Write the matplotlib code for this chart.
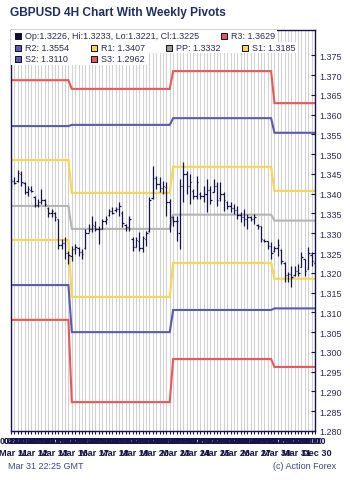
import numpy as np
import matplotlib
matplotlib.use("Agg")
import matplotlib.pyplot as plt
from matplotlib.patches import Rectangle
from matplotlib.transforms import blended_transform_factory

plt.rcParams['font.family'] = ['Liberation Sans', 'DejaVu Sans']

# ---------------- data ----------------
opens = [1.3420, 1.3432, 1.3432, 1.3450, 1.3428, 1.3405, 1.3410, 1.3392, 1.3372, 1.3380,
         1.3383, 1.3364, 1.3350, 1.3352, 1.3335, 1.3270, 1.3276, 1.3250, 1.3243, 1.3260,
         1.3262, 1.3252, 1.3262, 1.3300, 1.3310, 1.3318, 1.3312, 1.3312, 1.3330, 1.3345,
         1.3356, 1.3358, 1.3362, 1.3352, 1.3320, 1.3315, 1.3285, 1.3265, 1.3280, 1.3262,
         1.3285, 1.3305, 1.3390, 1.3440, 1.3425, 1.3415, 1.3418, 1.3380, 1.3340, 1.3330,
         1.3300, 1.3420, 1.3450, 1.3420, 1.3408, 1.3395, 1.3400, 1.3395, 1.3400, 1.3410,
         1.3405, 1.3420, 1.3390, 1.3400, 1.3380, 1.3370, 1.3365, 1.3360, 1.3345, 1.3340,
         1.3335, 1.3340, 1.3336, 1.3320, 1.3318, 1.3282, 1.3280, 1.3268, 1.3255, 1.3262,
         1.3258, 1.3225, 1.3195, 1.3198, 1.3195, 1.3205, 1.3215, 1.3235, 1.3210, 1.3245,
         1.3226]
highs = [1.3437, 1.3442, 1.3460, 1.3457, 1.3430, 1.3419, 1.3419, 1.3394, 1.3387, 1.3412,
         1.3387, 1.3366, 1.3361, 1.3354, 1.3336, 1.3285, 1.3291, 1.3255, 1.3268, 1.3273,
         1.3265, 1.3260, 1.3311, 1.3323, 1.3344, 1.3331, 1.3318, 1.3336, 1.3344, 1.3361,
         1.3366, 1.3366, 1.3379, 1.3356, 1.3323, 1.3344, 1.3291, 1.3291, 1.3303, 1.3293,
         1.3306, 1.3392, 1.3470, 1.3445, 1.3442, 1.3432, 1.3430, 1.3387, 1.3344, 1.3344,
         1.3437, 1.3480, 1.3457, 1.3450, 1.3412, 1.3445, 1.3404, 1.3419, 1.3437, 1.3419,
         1.3437, 1.3430, 1.3430, 1.3404, 1.3382, 1.3379, 1.3374, 1.3369, 1.3354, 1.3361,
         1.3349, 1.3344, 1.3349, 1.3323, 1.3318, 1.3285, 1.3280, 1.3278, 1.3268, 1.3285,
         1.3260, 1.3227, 1.3202, 1.3217, 1.3217, 1.3222, 1.3253, 1.3235, 1.3265, 1.3253,
         1.3233]
lows = [1.3412, 1.3425, 1.3430, 1.3419, 1.3399, 1.3394, 1.3404, 1.3366, 1.3366, 1.3374,
        1.3369, 1.3341, 1.3341, 1.3331, 1.3260, 1.3260, 1.3235, 1.3222, 1.3230, 1.3248,
        1.3242, 1.3235, 1.3260, 1.3303, 1.3303, 1.3306, 1.3273, 1.3311, 1.3323, 1.3344,
        1.3349, 1.3354, 1.3344, 1.3316, 1.3306, 1.3306, 1.3255, 1.3265, 1.3255, 1.3253,
        1.3268, 1.3303, 1.3387, 1.3412, 1.3404, 1.3399, 1.3344, 1.3303, 1.3318, 1.3280,
        1.3260, 1.3379, 1.3399, 1.3374, 1.3387, 1.3387, 1.3387, 1.3379, 1.3354, 1.3374,
        1.3404, 1.3369, 1.3382, 1.3356, 1.3361, 1.3354, 1.3349, 1.3336, 1.3328, 1.3318,
        1.3311, 1.3331, 1.3323, 1.3311, 1.3278, 1.3278, 1.3260, 1.3235, 1.3253, 1.3242,
        1.3222, 1.3177, 1.3177, 1.3164, 1.3192, 1.3192, 1.3215, 1.3192, 1.3210, 1.3217,
        1.3221]
closes = [1.3432, 1.3428, 1.3452, 1.3430, 1.3405, 1.3412, 1.3407, 1.3372, 1.3380, 1.3385,
          1.3375, 1.3350, 1.3356, 1.3340, 1.3270, 1.3275, 1.3250, 1.3245, 1.3260, 1.3265,
          1.3252, 1.3248, 1.3300, 1.3310, 1.3320, 1.3312, 1.3310, 1.3330, 1.3335, 1.3356,
          1.3352, 1.3362, 1.3370, 1.3325, 1.3315, 1.3335, 1.3265, 1.3282, 1.3262, 1.3288,
          1.3300, 1.3385, 1.3440, 1.3425, 1.3415, 1.3420, 1.3380, 1.3340, 1.3330, 1.3330,
          1.3420, 1.3450, 1.3420, 1.3430, 1.3395, 1.3430, 1.3395, 1.3400, 1.3410, 1.3385,
          1.3420, 1.3385, 1.3400, 1.3385, 1.3370, 1.3365, 1.3360, 1.3345, 1.3340, 1.3335,
          1.3340, 1.3336, 1.3342, 1.3318, 1.3285, 1.3281, 1.3268, 1.3250, 1.3262, 1.3270,
          1.3230, 1.3195, 1.3198, 1.3190, 1.3205, 1.3200, 1.3240, 1.3205, 1.3250, 1.3230,
          1.3225]

week_lengths = [18, 30, 30, 13]
R3 = [1.3687, 1.3665, 1.3710, 1.3629]
R2 = [1.3571, 1.3574, 1.3591, 1.3554]
R1 = [1.3485, 1.3402, 1.3468, 1.3407]
PP = [1.3369, 1.3311, 1.3347, 1.3332]
S1 = [1.3283, 1.3139, 1.3225, 1.3185]
S2 = [1.3169, 1.3050, 1.3106, 1.3110]
S3 = [1.3081, 1.2873, 1.2982, 1.2962]

day_labels = ["Mar 11", "Mar 12", "Mar 13", "Mar 16", "Mar 17", "Mar 18", "Mar 19", "Mar 20",
              "Mar 23", "Mar 24", "Mar 25", "Mar 26", "Mar 27", "Mar 30", "Mar 31", "Dec 30"]
hour_labels = ["00:00", "04:00", "08:00", "12:00", "16:00", "20:00"]
y_ticks = [1.280, 1.285, 1.290, 1.295, 1.300, 1.305, 1.310, 1.315, 1.320, 1.325,
           1.330, 1.335, 1.340, 1.345, 1.350, 1.355, 1.360, 1.365, 1.370, 1.375]

# ---------------- styling ----------------
W, H = 350, 481
NAVY = '#15154a'
TXT = '#2a2a55'
RED = '#e85858'
BLUE = '#5a5ab0'
YEL = '#f8d64e'
GRAY = '#b4b4b4'

fig = plt.figure(figsize=(W / 100, H / 100), dpi=100)
L, R, T, B = 11, 315, 31, 432
ax = fig.add_axes([L / W, 1 - B / H, (R - L) / W, (B - T) / H])

n = len(closes)
x = np.arange(n)
ax.set_xlim(0, n - 1)
ax.set_ylim(1.280, 1.280 + (B - T) / 3955)

# vertical grid per bar
for xi in x:
    ax.axvline(xi, color='#d2d2d2', lw=0.8, zorder=0)

# pivots
for vals, col in [(R3, RED), (R2, BLUE), (R1, YEL), (PP, GRAY), (S1, YEL), (S2, BLUE), (S3, RED)]:
    yv = np.repeat(vals, week_lengths)
    ax.plot(x, yv, color=col, lw=1.5, zorder=2, solid_joinstyle='miter')

# OHLC bars
tick = 0.42
ax.vlines(x, lows, highs, color=NAVY, lw=0.9, zorder=3)
ax.hlines(opens, x - tick, x, color=NAVY, lw=0.9, zorder=3)
ax.hlines(closes, x, x + tick, color=NAVY, lw=0.9, zorder=3)

for sp in ax.spines.values():
    sp.set_color(NAVY)
    sp.set_linewidth(1.0)

# y axis on right
ax.yaxis.tick_right()
ax.set_yticks(y_ticks)
ax.set_yticklabels([f"{v:.3f}" for v in y_ticks])
ax.tick_params(axis='y', direction='in', length=3, width=0.8, color=NAVY,
               labelsize=6.5, labelcolor=TXT, pad=3)

# x axis: time labels per bar (dense, overlapping band as in reference)
ax.set_xticks(x)
ax.set_xticklabels([hour_labels[i % 6] for i in x], fontweight='bold')
ax.tick_params(axis='x', direction='out', length=2.5, width=0.8, color=NAVY,
               labelsize=6.2, labelcolor=NAVY, pad=1)

# day labels
tr = blended_transform_factory(ax.transData, ax.transAxes)
for k, lab in enumerate(day_labels):
    ax.text(k * 6 + 0.6, (B - 454) / (B - T), lab, transform=tr, ha='center', va='center',
            fontsize=6.6, color=NAVY, fontweight='bold')

# legend rows with white background
def px2fig(px, py):
    return px / W, 1 - py / H

for (x0, x1, y0, y1) in [(11, 277, 31, 42.5), (11, 297, 42.5, 54), (11, 148, 54, 65.5)]:
    fx, fy = px2fig(x0, y1)
    fig.add_artist(Rectangle((fx, fy), (x1 - x0) / W, (y1 - y0) / H, transform=fig.transFigure,
                             facecolor='white', edgecolor='none', zorder=5))

legend_items = [
    (15, 37, '#101030', "Op:{:.4f}, Hi:{:.4f}, Lo:{:.4f}, Cl:{:.4f}".format(opens[-1], highs[-1], lows[-1], closes[-1])),
    (221, 37, RED, "R3: {:.4f}".format(R3[-1])),
    (15, 48.5, BLUE, "R2: {:.4f}".format(R2[-1])),
    (91, 48.5, YEL, "R1: {:.4f}".format(R1[-1])),
    (166, 48.5, '#9a9a9a', "PP: {:.4f}".format(PP[-1])),
    (242, 48.5, YEL, "S1: {:.4f}".format(S1[-1])),
    (15, 60, BLUE, "S2: {:.4f}".format(S2[-1])),
    (91, 60, RED, "S3: {:.4f}".format(S3[-1])),
]
for sx, sy, col, lab in legend_items:
    fx, fy = px2fig(sx, sy + 3)
    fig.add_artist(Rectangle((fx, fy), 6 / W, 6 / H, transform=fig.transFigure,
                             facecolor=col, edgecolor='#111122', lw=0.7, zorder=6))
    tx, ty = px2fig(sx + 10, sy)
    fig.text(tx, ty, lab, ha='left', va='center', fontsize=6.5, color=TXT, zorder=7)

# title and footer
fig.text(10 / W, 1 - 13 / H, "GBPUSD 4H Chart With Weekly Pivots", ha='left', va='center',
         fontsize=8.6, fontweight='bold', color='#1f2f5f')
fig.text(8 / W, 1 - 467 / H, "Mar 31 22:25 GMT", ha='left', va='center', fontsize=6.5, color='#3a4a8a')
fig.text(336 / W, 1 - 467 / H, "(c) Action Forex", ha='right', va='center', fontsize=6.5, color='#3a4a8a')

fig.savefig("out.png", dpi=100, facecolor='white')
